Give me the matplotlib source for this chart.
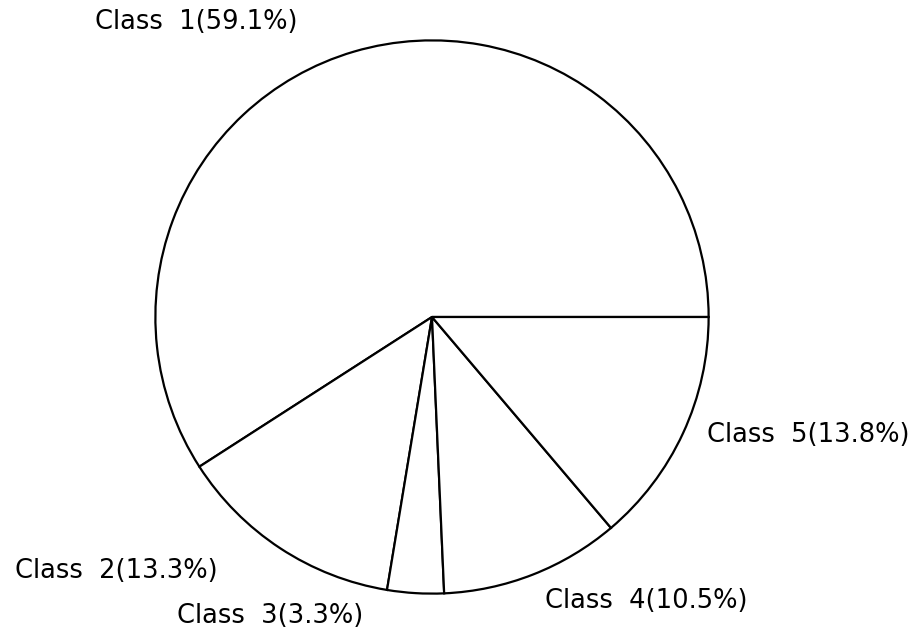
import matplotlib
matplotlib.use("Agg")
import matplotlib.pyplot as plt

classes = ["Class  1", "Class  2", "Class  3", "Class  4", "Class  5"]
shares = [59.1, 13.3, 3.3, 10.5, 13.8]

# label centres in figure pixels (from the top-left corner)
label_px = [(196, 22), (116, 571), (270, 616), (646, 601), (808, 435)]

W, H = 919, 641
fig = plt.figure(figsize=(W / 100, H / 100), dpi=100)

cx, cy, r = 432, 317, 278
ax = fig.add_axes([(cx - r) / W, (H - cy - r) / H, 2 * r / W, 2 * r / H])
ax.pie(
    shares,
    startangle=0,
    counterclock=True,
    colors=["white"] * len(shares),
    wedgeprops=dict(edgecolor="black", linewidth=1.6),
    radius=1,
)
ax.set_xlim(-1.005, 1.005)
ax.set_ylim(-1.005, 1.005)
ax.set_aspect("equal")
ax.axis("off")

for name, val, (px, py) in zip(classes, shares, label_px):
    fig.text(
        px / W,
        1 - py / H,
        f"{name}({val}%)",
        ha="center",
        va="center",
        fontsize=18.5,
        family="DejaVu Sans",
    )

fig.savefig("out.png", dpi=100)
